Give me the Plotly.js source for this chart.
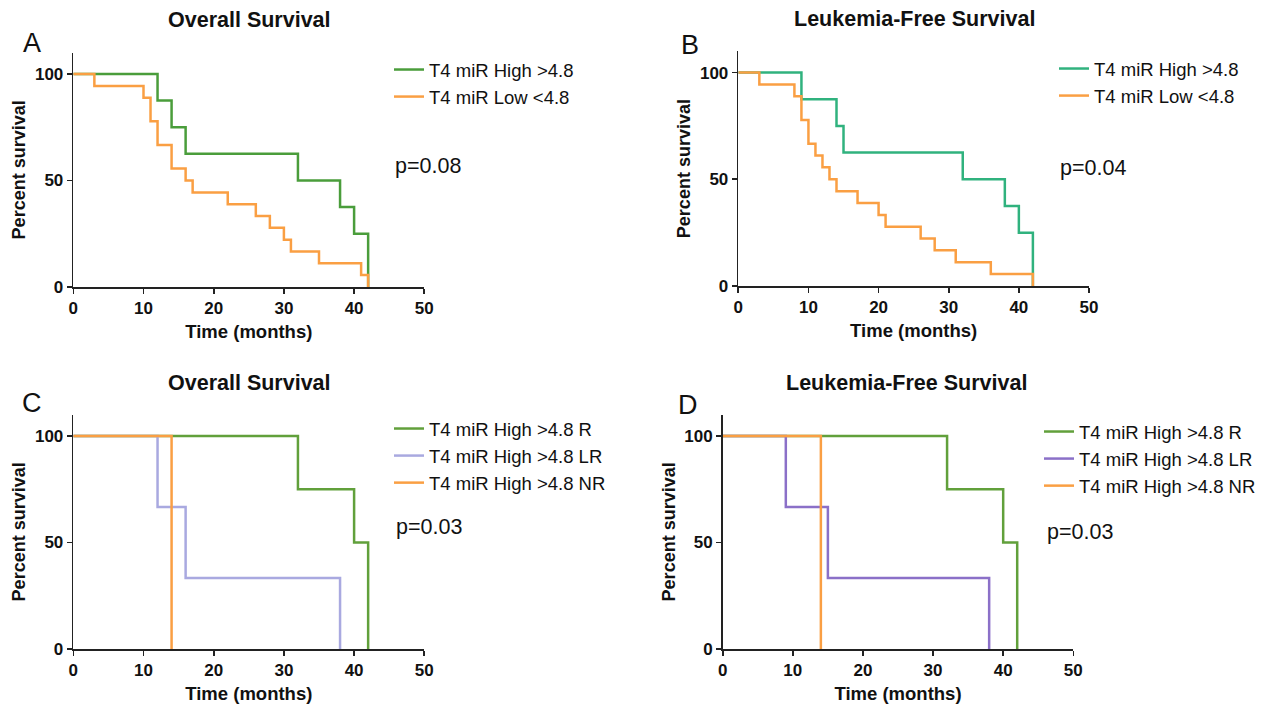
<!DOCTYPE html>
<html>
<head>
<meta charset="utf-8">
<script src="https://cdn.plot.ly/plotly-3.0.1.min.js"></script>
<style>html,body{margin:0;padding:0;background:#fff}#chart{width:1275px;height:705px}</style>
</head>
<body>
<div id="chart"></div>
<script>
// ---- Data ----
// Panel A: Overall Survival
const osHighTime = [0, 12, 14, 16, 32, 38, 40, 42];
const osHighSurv = [100, 87.5, 75, 62.5, 50, 37.5, 25, 0];
const osLowTime  = [0, 3, 10, 11, 12, 14, 16, 17, 22, 26, 28, 30, 31, 35, 41, 42];
const osLowSurv  = [100, 94.4, 88.9, 77.8, 66.7, 55.6, 50, 44.4, 38.9, 33.3, 27.8, 22.2, 16.7, 11.1, 5.6, 0];
// Panel B: Leukemia-Free Survival
const lfsHighTime = [0, 9, 14, 15, 32, 38, 40, 42];
const lfsHighSurv = [100, 87.5, 75, 62.5, 50, 37.5, 25, 0];
const lfsLowTime  = [0, 3, 8, 9, 10, 11, 12, 13, 14, 17, 20, 21, 26, 28, 31, 36, 42];
const lfsLowSurv  = [100, 94.4, 88.9, 77.8, 66.7, 61.1, 55.6, 50, 44.4, 38.9, 33.3, 27.8, 22.2, 16.7, 11.1, 5.6, 0];
// Panel C: Overall Survival by response
const osRTime  = [0, 32, 40, 42];
const osRSurv  = [100, 75, 50, 0];
const osLRTime = [0, 12, 16, 38];
const osLRSurv = [100, 66.7, 33.3, 0];
const osNRTime = [0, 14];
const osNRSurv = [100, 0];
// Panel D: Leukemia-Free Survival by response
const lfsRTime  = [0, 32, 40, 42];
const lfsRSurv  = [100, 75, 50, 0];
const lfsLRTime = [0, 9, 15, 38];
const lfsLRSurv = [100, 66.7, 33.3, 0];
const lfsNRTime = [0, 14];
const lfsNRSurv = [100, 0];

const seriesNamesAB = ['T4 miR High >4.8', 'T4 miR Low <4.8'];
const seriesNamesCD = ['T4 miR High >4.8 R', 'T4 miR High >4.8 LR', 'T4 miR High >4.8 NR'];
const panelTitles = ['Overall Survival', 'Leukemia-Free Survival', 'Overall Survival', 'Leukemia-Free Survival'];
const panelLetters = ['A', 'B', 'C', 'D'];
const pValues = ['p=0.08', 'p=0.04', 'p=0.03', 'p=0.03'];
const xTickVals = [0, 10, 20, 30, 40, 50];
const yTickVals = [0, 50, 100];
const xAxisTitle = 'Time (months)';
const yAxisTitle = 'Percent survival';

// ---- Styling ----
const FONT = 'Liberation Sans, Arial, Helvetica, sans-serif';
const W = 1275, H = 705;
const C_GREEN_A = '#4a9d3b', C_ORANGE = '#fa9f43', C_GREEN_B = '#30b27e',
      C_LAV = '#a9a9e0', C_PURPLE = '#8b70c8', C_GREEN_CD = '#61a03b';

function tr(x, y, name, color, xa, ya, leg) {
  return {
    x: x, y: y, name: name, type: 'scatter', mode: 'lines',
    line: {shape: 'hv', color: color, width: 2.5},
    xaxis: xa, yaxis: ya, legend: leg
  };
}

const data = [
  tr(osHighTime, osHighSurv, seriesNamesAB[0], C_GREEN_A, 'x', 'y', 'legend'),
  tr(osLowTime, osLowSurv, seriesNamesAB[1], C_ORANGE, 'x', 'y', 'legend'),
  tr(lfsHighTime, lfsHighSurv, seriesNamesAB[0], C_GREEN_B, 'x2', 'y2', 'legend2'),
  tr(lfsLowTime, lfsLowSurv, seriesNamesAB[1], C_ORANGE, 'x2', 'y2', 'legend2'),
  tr(osRTime, osRSurv, seriesNamesCD[0], C_GREEN_CD, 'x3', 'y3', 'legend3'),
  tr(osLRTime, osLRSurv, seriesNamesCD[1], C_LAV, 'x3', 'y3', 'legend3'),
  tr(osNRTime, osNRSurv, seriesNamesCD[2], C_ORANGE, 'x3', 'y3', 'legend3'),
  tr(lfsRTime, lfsRSurv, seriesNamesCD[0], C_GREEN_CD, 'x4', 'y4', 'legend4'),
  tr(lfsLRTime, lfsLRSurv, seriesNamesCD[1], C_PURPLE, 'x4', 'y4', 'legend4'),
  tr(lfsNRTime, lfsNRSurv, seriesNamesCD[2], C_ORANGE, 'x4', 'y4', 'legend4')
];

// plot areas in pixels: [x0, x1, yTop, yBottom]
const boxes = [
  [73.3, 424.3, 52.7, 287],
  [738.3, 1089, 51.2, 286],
  [73.3, 424.3, 414.7, 649],
  [722.7, 1073.3, 414.7, 649]
];

function xax(b, anchor) {
  return {
    domain: [b[0] / W, b[1] / W], range: [0, 50], anchor: anchor,
    tickvals: xTickVals, ticks: 'outside', ticklen: 5, tickwidth: 1.6, tickcolor: '#222',
    showline: true, linecolor: '#222', linewidth: 1.6, showgrid: false, zeroline: false,
    tickfont: {family: FONT, size: 17, weight: 'bold', color: '#111'},
    title: {text: xAxisTitle, standoff: 8, font: {family: FONT, size: 18.5, weight: 'bold', color: '#111'}},
    fixedrange: true
  };
}
function yax(b, anchor) {
  return {
    domain: [1 - b[3] / H, 1 - b[2] / H], range: [0, 110], anchor: anchor,
    tickvals: yTickVals, ticks: 'outside', ticklen: 5, tickwidth: 1.6, tickcolor: '#222',
    showline: true, linecolor: '#222', linewidth: 1.6, showgrid: false, zeroline: false,
    tickfont: {family: FONT, size: 17, weight: 'bold', color: '#111'},
    title: {text: yAxisTitle, standoff: 4, font: {family: FONT, size: 18, weight: 'bold', color: '#111'}},
    fixedrange: true
  };
}

function leg(xpx, ypx) {
  return {
    x: xpx / W, y: 1 - ypx / H, xanchor: 'left', yanchor: 'top',
    font: {family: FONT, size: 18.5, color: '#111'}, bgcolor: 'rgba(0,0,0,0)',
    tracegroupgap: 0, traceorder: 'normal', itemwidth: 30
  };
}

const annotations = [];
const titlePos = [[249, 20], [914, 19], [249, 383], [906, 383]];
const letterPos = [[32, 43], [690, 45], [32, 403], [688, 405]];
const pPos = [[428, 166], [1093, 168], [429, 527], [1080, 532]];
for (let i = 0; i < 4; i++) {
  annotations.push({text: panelTitles[i], x: titlePos[i][0] / W, y: 1 - titlePos[i][1] / H, xref: 'paper', yref: 'paper',
    showarrow: false, xanchor: 'center', yanchor: 'middle', font: {family: FONT, size: 21.5, weight: 'bold', color: '#111'}});
  annotations.push({text: panelLetters[i], x: letterPos[i][0] / W, y: 1 - letterPos[i][1] / H, xref: 'paper', yref: 'paper',
    showarrow: false, xanchor: 'center', yanchor: 'middle', font: {family: FONT, size: 27, color: '#111'}});
  annotations.push({text: pValues[i], x: pPos[i][0] / W, y: 1 - pPos[i][1] / H, xref: 'paper', yref: 'paper',
    showarrow: false, xanchor: 'center', yanchor: 'middle', font: {family: FONT, size: 21.5, color: '#111'}});
}

const layout = {
  width: W, height: H, margin: {l: 0, r: 0, t: 0, b: 0},
  paper_bgcolor: '#fff', plot_bgcolor: '#fff', showlegend: true,
  xaxis: xax(boxes[0], 'y'), yaxis: yax(boxes[0], 'x'),
  xaxis2: xax(boxes[1], 'y2'), yaxis2: yax(boxes[1], 'x2'),
  xaxis3: xax(boxes[2], 'y3'), yaxis3: yax(boxes[2], 'x3'),
  xaxis4: xax(boxes[3], 'y4'), yaxis4: yax(boxes[3], 'x4'),
  legend: leg(389, 51), legend2: leg(1054, 50), legend3: leg(389, 410), legend4: leg(1039, 413),
  annotations: annotations
};

Plotly.newPlot('chart', data, layout, {displayModeBar: false, staticPlot: true});
</script>
</body>
</html>
